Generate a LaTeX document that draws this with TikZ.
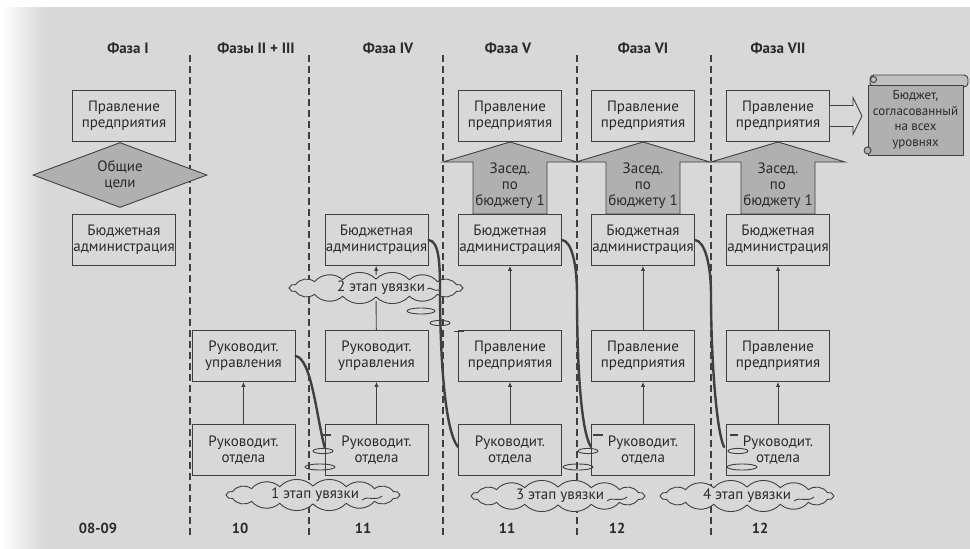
\documentclass[tikz,border=0pt]{standalone}
\usepackage{fontspec}
\setmainfont{PT Sans}
\usetikzlibrary{shapes.geometric,arrows.meta,calc}
\definecolor{bg}{HTML}{D8D8D8}
\definecolor{gf}{HTML}{B0B0B0}
\definecolor{lc}{HTML}{404040}
\definecolor{tc}{HTML}{2A2A2A}
\tikzset{
  box/.style={draw=lc, fill=bg, line width=0.9pt, minimum width=103, minimum height=51, inner sep=0pt, align=center, text=tc, font=\fontsize{15}{16}\selectfont},
  diam/.style={diamond, draw=lc, fill=gf, line width=0.9pt, aspect=2.68, minimum width=174, minimum height=65, inner sep=0pt, align=center, text=tc, font=\fontsize{15}{16}\selectfont},
  house/.style={draw=lc, fill=gf, line width=0.9pt, line join=miter},
  ztext/.style={align=center, inner sep=0pt, text=tc, font=\fontsize{15}{16}\selectfont},
  hdr/.style={inner sep=0pt, text=tc, font=\fontsize{15}{16}\selectfont\bfseries},
  num/.style={inner sep=0pt, text=tc, font=\fontsize{14.5}{16}\selectfont\bfseries},
  dline/.style={draw=lc, line width=1.1pt, dash pattern=on 7pt off 4pt},
  cloudnode/.style={ellipse, minimum width=182, minimum height=26, inner sep=0pt},
  cloudline/.style={draw=lc, fill=bg, line width=0.9pt},
  cloudtext/.style={inner sep=0pt, text=tc, font=\fontsize{15}{16}\selectfont},
  arr/.style={draw=lc, line width=0.9pt, -{Latex[length=5pt,width=4.5pt]}},
  plain/.style={draw=lc, line width=0.9pt},
  link/.style={draw=lc, line width=2.4pt, line cap=round},
  ring/.style={draw=lc, line width=0.9pt},
  tick/.style={draw=lc, line width=1.6pt},
  scrollbody/.style={draw=lc, fill=gf, line width=0.9pt, minimum width=95, minimum height=70, inner sep=0pt, align=center, text=tc, font=\fontsize{13}{15.5}\selectfont},
  scrollst/.style={draw=lc, fill=gf!60!bg, line width=0.9pt}
}
\begin{document}
\begin{tikzpicture}[x=1pt,y=-1pt]
\useasboundingbox (0,0) rectangle (970,549);
\fill[bg] (0,0) rectangle (970,549);
\shade[left color=white, right color=bg] (0,0) rectangle (45,549);
\fill[white] (0,0) rectangle (970,7);

% dashed separators
\foreach \x in {190,309,443,577,711} \draw[dline] (\x,55) -- (\x,535);

% headers
\node[hdr] (H1) at (128,48) {Фаза I};
\node[hdr] (H2) at (256,48) {Фазы II + III};
\node[hdr] (H3) at (388,48) {Фаза IV};
\node[hdr] (H4) at (508,48) {Фаза V};
\node[hdr] (H5) at (643,48) {Фаза VI};
\node[hdr] (H6) at (778,48) {Фаза VII};

% houses (Засед. по бюджету 1)
\foreach \c/\n in {510/4,643/5,778/6}{
  \filldraw[house] (\c,142) -- (\c+67,162) -- (\c+37,162) -- (\c+37,214) -- (\c-37,214) -- (\c-37,162) -- (\c-67,162) -- cycle;
  \node[ztext] (Z\n) at (\c,186) {Засед.\\по\\бюджету 1};
}

% column 1
\node[box] (PR1) at (124,116) {Правление\\предприятия};
\node[diam] (G1) at (120,175) {Общие\\цели};
\node[box] (BA1) at (124,240) {Бюджетная\\администрация};

% column 2
\node[box] (RU2) at (243.5,356) {Руководит.\\управления};
\node[box] (RO2) at (243.5,450) {Руководит.\\отдела};

% column 3
\node[box] (BA3) at (376.5,240) {Бюджетная\\администрация};
\node[box] (RU3) at (376.5,356) {Руководит.\\управления};
\node[box] (RO3) at (376.5,450) {Руководит.\\отдела};

% columns 4-6
\foreach \c/\n in {510/4,643/5,778/6}{
  \node[box] (PR\n) at (\c,116) {Правление\\предприятия};
  \node[box] (BA\n) at (\c,240) {Бюджетная\\администрация};
  \node[box] (PL\n) at (\c,356) {Правление\\предприятия};
  \node[box] (RO\n) at (\c,450) {Руководит.\\отдела};
}

% clouds
\node[cloudnode] (C1) at (313,495) {};
\node[cloudnode] (C2) at (376,288) {};
\node[cloudnode] (C3) at (558,496) {};
\node[cloudnode] (C4) at (747,496) {};
\foreach \nm in {C1,C2,C3,C4}{
  \draw[cloudline] ($(\nm.center)+(87,0)$)
    \foreach \a in {22.5,45,...,360} { to[bend left=45] ($(\nm.center)+({87*cos(\a)},{9*sin(\a)})$) } -- cycle;
}
\node[cloudtext] (T1) at (315,495) {1 этап увязки};
\node[cloudtext] (T2) at (381,288) {2 этап увязки};
\node[cloudtext] (T3) at (560,496) {3 этап увязки};
\node[cloudtext] (T4) at (747,496) {4 этап увязки};

% cloud tails
\draw[plain] ($(T1.east)+(3,5)$) .. controls ($(T1.east)+(9,0)$) and ($(T1.east)+(15,7)$) .. ($(T1.east)+(23,1)$);
\draw[plain] ($(T2.east)+(2,1)$) .. controls ($(T2.east)+(6,-2)$) and ($(T2.east)+(8,4)$) .. ($(T2.east)+(14,2)$);
\draw[plain] ($(T3.east)+(3,5)$) .. controls ($(T3.east)+(9,0)$) and ($(T3.east)+(15,7)$) .. ($(T3.east)+(23,1)$);
\draw[plain] ($(T4.east)+(3,5)$) .. controls ($(T4.east)+(9,0)$) and ($(T4.east)+(15,7)$) .. ($(T4.east)+(23,1)$);

% vertical arrows
\draw[arr] (RO2) -- (RU2);
\draw[arr] (RO3) -- (RU3);
\draw[plain] (RU3) -- (C2);
\draw[arr] (C2) -- (BA3);
\foreach \n in {4,5,6}{
  \draw[arr] (RO\n) -- (PL\n);
  \draw[arr] (PL\n) -- (BA\n);
}

% links (увязка)
\coordinate (mB) at (440,290);
\coordinate (mC) at (577,295);
\coordinate (mD) at (711,295);
\draw[link] (RU2.east) .. controls ($(RU2.east)+(16,2)$) and ($(RO3.west)+(-8,-33)$) .. ($(RO3.west)+(0,-3)$);
\draw[link] (BA3.east) .. controls ($(BA3.east)+(10,1)$) and ($(mB)+(0,-30)$) .. (mB)
   .. controls ($(mB)+(0,60)$) and ($(RO4.west)+(-14,-20)$) .. ($(RO4.west)+(0,-3)$);
\draw[link] (BA4.east) .. controls ($(BA4.east)+(10,1)$) and ($(mC)+(0,-30)$) .. (mC)
   .. controls ($(mC)+(0,60)$) and ($(RO5.west)+(-11,-20)$) .. ($(RO5.west)+(0,-3)$);
\draw[link] (BA5.east) .. controls ($(BA5.east)+(10,1)$) and ($(mD)+(0,-30)$) .. (mD)
   .. controls ($(mD)+(0,60)$) and ($(RO6.west)+(-10,-20)$) .. ($(RO6.west)+(-2,-3)$);

% rings and ticks
\draw[ring] (323,451) ellipse [x radius=10pt, y radius=2.6pt];
\draw[ring] (320,467) ellipse [x radius=15pt, y radius=3pt];
\draw[tick] (321,435) -- (331,435);
\draw[ring] (421,311) ellipse [x radius=14pt, y radius=3pt];
\draw[ring] (440,323) ellipse [x radius=10pt, y radius=2.6pt];
\draw[tick] (454,331.5) -- (464,331.5);
\draw[ring] (588,451) ellipse [x radius=10pt, y radius=2.6pt];
\draw[ring] (578,467) ellipse [x radius=15pt, y radius=3pt];
\draw[tick] (593,435) -- (603,435);
\draw[ring] (738,451) ellipse [x radius=10pt, y radius=2.6pt];
\draw[ring] (742,467) ellipse [x radius=15pt, y radius=3pt];
\draw[tick] (730,435) -- (738,435);

% scroll
\draw[scrollst, rounded corners=4pt] (870,75) rectangle (968,87);
\node[scrollbody] (S) at (915.5,120) {Бюджет,\\согласованный\\на всех\\уровнях};
\draw[ring, fill=gf!60!bg] ($(S.north west)+(6,-5)$) circle (3pt);
\draw[ring, fill=gf] ($(S.south west)+(0,-5)$) circle (3.5pt);

% hollow arrow to scroll
\draw[plain, fill=bg, line join=miter] ($(PR6.east)+(0,-10.5)$) -- ++(23,0) -- ++(0,-8) -- ++(9,18.5) -- ++(-9,18.5) -- ++(0,-8) -- ($(PR6.east)+(0,10.5)$);

% year labels
\node[num] (Y1) at (98,528) {08-09};
\node[num] (Y2) at (240,528) {10};
\node[num] (Y3) at (363,528) {11};
\node[num] (Y4) at (507,528) {11};
\node[num] (Y5) at (617,528) {12};
\node[num] (Y6) at (760,528) {12};
\end{tikzpicture}
\end{document}
